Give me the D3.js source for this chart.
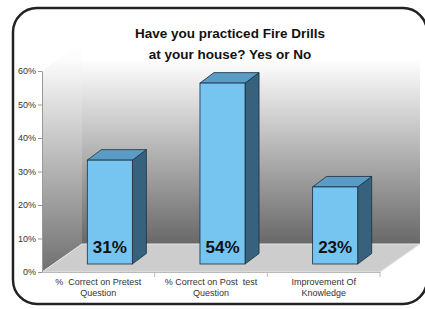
<!DOCTYPE html>
<html>
<head>
<meta charset="utf-8">
<script src="https://cdn.jsdelivr.net/npm/d3@7"></script>
<style>
  body { margin: 0; background: #fff; }
  svg { display: block; }
</style>
</head>
<body>
<script>
var categories = [["%  Correct on Pretest", "Question"], ["% Correct on Post  test", "Question"], ["Improvement Of", "Knowledge"]];
var values = [0.31, 0.54, 0.23];
var valueLabels = ["31%", "54%", "23%"];
var yTicks = [0, 0.1, 0.2, 0.3, 0.4, 0.5, 0.6];
var titleLines = ["Have you practiced Fire Drills", "at your house? Yes or No"];

var chartWidth = 425;
var chartHeight = 309;

// 3d offsets
var depth = {dx: 40, dy: -28};
var barShift = {dx: 11.5, dy: -8};
var barDepth = {dx: 14, dy: -10.5};

var xScale = d3.scaleBand()
               .domain(d3.range(values.length))
               .range([42, 380]);

var yScale = d3.scaleLinear()
               .domain([0, 0.6])
               .range([272, 71]);

var svg = d3.select("body")
            .append("svg")
            .attr("width", chartWidth)
            .attr("height", chartHeight);

var defs = svg.append("defs");
var wallGrad = defs.append("linearGradient")
                   .attr("id", "wall")
                   .attr("x1", 0).attr("y1", 0).attr("x2", 0).attr("y2", 1);
wallGrad.append("stop").attr("offset", "0%").attr("stop-color", "#ffffff");
wallGrad.append("stop").attr("offset", "8%").attr("stop-color", "#ffffff");
wallGrad.append("stop").attr("offset", "100%").attr("stop-color", "#686868");

var sideGrad = defs.append("linearGradient")
                   .attr("id", "side")
                   .attr("x1", 0).attr("y1", 0).attr("x2", 0).attr("y2", 1);
sideGrad.append("stop").attr("offset", "0%").attr("stop-color", "#ffffff");
sideGrad.append("stop").attr("offset", "8%").attr("stop-color", "#fbfbfb");
sideGrad.append("stop").attr("offset", "100%").attr("stop-color", "#707070");

// frame
svg.append("rect")
   .attr("x", 13).attr("y", 8)
   .attr("width", 414).attr("height", 296)
   .attr("rx", 24)
   .attr("fill", "#fff")
   .attr("stroke", "#222")
   .attr("stroke-width", 2.5);

var x0 = xScale.range()[0], x1 = xScale.range()[1];
var yTop = yScale(0.6), yBase = yScale(0);

function pts(a) {
  return a.map(function(p) { return p[0] + "," + p[1]; }).join(" ");
}

// back wall
svg.append("polygon")
   .attr("points", pts([[x0 + depth.dx, yTop + depth.dy], [x1 + depth.dx, yTop + depth.dy],
                        [x1 + depth.dx, yBase + depth.dy], [x0 + depth.dx, yBase + depth.dy]]))
   .attr("fill", "url(#wall)");

// left wall
svg.append("polygon")
   .attr("points", pts([[x0, yTop], [x0 + depth.dx, yTop + depth.dy],
                        [x0 + depth.dx, yBase + depth.dy], [x0, yBase]]))
   .attr("fill", "url(#side)");

// floor
svg.append("polygon")
   .attr("points", pts([[x0, yBase], [x0 + depth.dx, yBase + depth.dy],
                        [x1 + depth.dx, yBase + depth.dy], [x1, yBase]]))
   .attr("fill", "#cdcdcd")
   .attr("stroke", "#e6e6e6")
   .attr("stroke-width", 1);

// title
svg.append("g").selectAll("text")
   .data(titleLines)
   .enter()
   .append("text")
   .attr("x", 230)
   .attr("y", function(d, i) { return 38 + i * 21; })
   .attr("text-anchor", "middle")
   .attr("font-family", "'Comic Sans MS', 'Liberation Sans', sans-serif")
   .attr("font-weight", "bold")
   .attr("font-size", 13.5)
   .attr("fill", "#111")
   .text(function(d) { return d; });

// y axis
var yAxis = svg.append("g")
               .attr("transform", "translate(" + x0 + ",0)")
               .call(d3.axisLeft(yScale)
                       .tickValues(yTicks)
                       .tickFormat(d3.format(".0%"))
                       .tickSizeInner(4)
                       .tickSizeOuter(0)
                       .tickPadding(2));
yAxis.select(".domain").attr("stroke", "#999");
yAxis.selectAll(".tick line").attr("stroke", "#999");
yAxis.selectAll(".tick text")
     .attr("font-family", "'Liberation Sans', Arial, sans-serif")
     .attr("font-size", 9)
     .attr("fill", "#333");

// x axis
var xAxis = svg.append("g")
               .attr("transform", "translate(0," + yBase + ")")
               .call(d3.axisBottom(xScale).tickSize(0).tickFormat(""));
xAxis.select(".domain").attr("stroke", "#bbb");
xAxis.selectAll(".sep")
     .data(d3.range(values.length))
     .enter()
     .append("line")
     .attr("class", "sep")
     .attr("x1", function(d) { return xScale(d) + xScale.bandwidth(); })
     .attr("x2", function(d) { return xScale(d) + xScale.bandwidth(); })
     .attr("y1", 0).attr("y2", 5)
     .attr("stroke", "#bbb");

// category labels
var catLabels = svg.append("g").selectAll("text")
                   .data(categories)
                   .enter()
                   .append("text")
                   .attr("text-anchor", "middle")
                   .attr("font-family", "'Liberation Sans', Arial, sans-serif")
                   .attr("font-size", 9)
                   .attr("fill", "#333")
                   .attr("xml:space", "preserve")
                   .style("white-space", "pre");
catLabels.selectAll("tspan")
         .data(function(d, i) { return d.map(function(s) { return {s: s, i: i}; }); })
         .enter()
         .append("tspan")
         .attr("x", function(d) { return xScale(d.i) + xScale.bandwidth() / 2; })
         .attr("y", function(d, j) { return 285 + j * 11; })
         .text(function(d) { return d.s; });

// bars
var bw = xScale.bandwidth() * 0.4;
var bars = svg.append("g").selectAll("g")
              .data(values)
              .enter()
              .append("g");

function fx(i) { return xScale(i) + (xScale.bandwidth() - bw) / 2 + barShift.dx; }
function fy(d) { return yScale(d) + barShift.dy; }
var fb = yBase + barShift.dy;

bars.append("polygon")
    .attr("points", function(d, i) {
      var l = fx(i), r = l + bw, t = fy(d);
      return pts([[r, t], [r + barDepth.dx, t + barDepth.dy], [r + barDepth.dx, fb + barDepth.dy], [r, fb]]);
    })
    .attr("fill", "#37627e")
    .attr("stroke", "#1c2e3c")
    .attr("stroke-width", 0.8)
    .attr("stroke-linejoin", "round");

bars.append("polygon")
    .attr("points", function(d, i) {
      var l = fx(i), r = l + bw, t = fy(d);
      return pts([[l, t], [l + barDepth.dx, t + barDepth.dy], [r + barDepth.dx, t + barDepth.dy], [r, t]]);
    })
    .attr("fill", "#5a9cc6")
    .attr("stroke", "#1c2e3c")
    .attr("stroke-width", 0.8)
    .attr("stroke-linejoin", "round");

bars.append("rect")
    .attr("x", function(d, i) { return fx(i); })
    .attr("y", function(d) { return fy(d); })
    .attr("width", bw)
    .attr("height", function(d) { return fb - fy(d); })
    .attr("fill", "#76c4f0")
    .attr("stroke", "#1c2e3c")
    .attr("stroke-width", 0.8);

bars.append("text")
    .attr("x", function(d, i) { return fx(i) + bw / 2; })
    .attr("y", fb - 11)
    .attr("text-anchor", "middle")
    .attr("font-family", "'Comic Sans MS', 'Liberation Sans', sans-serif")
    .attr("font-weight", "bold")
    .attr("font-size", 17)
    .attr("fill", "#111")
    .text(function(d, i) { return valueLabels[i]; });
</script>
</body>
</html>
